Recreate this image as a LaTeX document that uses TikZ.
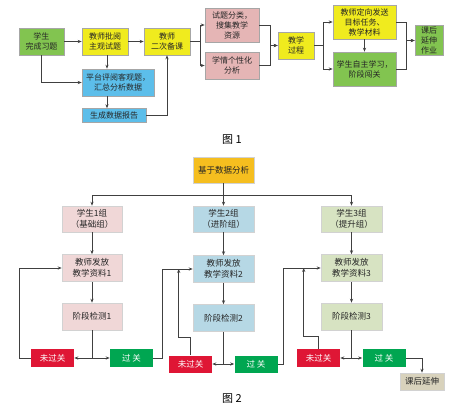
\documentclass[tikz,border=0pt]{standalone}
\usepackage{fontspec}
\usepackage{tikz}
\usetikzlibrary{arrows.meta,positioning}
\newfontfamily\cjk{Noto Sans CJK SC}
\definecolor{fgreen}{RGB}{130,196,80}
\definecolor{fyellow}{RGB}{240,235,30}
\definecolor{fblue}{RGB}{92,190,234}
\definecolor{fpink}{RGB}{229,181,181}
\definecolor{forange}{RGB}{245,190,31}
\definecolor{lpink}{RGB}{240,215,215}
\definecolor{lblue}{RGB}{182,216,229}
\definecolor{lgreen}{RGB}{215,227,194}
\definecolor{fred}{RGB}{223,22,53}
\definecolor{pgreen}{RGB}{0,166,81}
\definecolor{beige}{RGB}{216,210,188}

\begin{document}
\begin{tikzpicture}[x=1pt, y=-1pt,
    box/.style={draw=gray!70, line width=0.6pt, align=center, inner sep=1pt, text=black!85, font=\cjk\fontsize{8}{10}\selectfont},
    pbox/.style={box, draw=gray!35, font=\cjk\fontsize{8.5}{11}\selectfont},
    gate/.style={box, draw=none, text=white, minimum width=43pt, minimum height=18pt, font=\cjk\fontsize{8.5}{10}\selectfont},
    arr/.style={-{Stealth[length=4pt,width=3.2pt]}, line width=0.8pt, draw=black!75},
    dbl/.style={{Stealth[length=4pt,width=3.2pt]}-{Stealth[length=4pt,width=3.2pt]}, line width=0.8pt, draw=black!75},
    ln/.style={line width=0.8pt, draw=black!75},
    figcap/.style={font=\cjk\fontsize{11}{12}\selectfont}]
    \useasboundingbox[fill=white] (0,0) rectangle (453,413);

    % figure 1
    \node[box, fill=fgreen, minimum width=45pt, minimum height=27pt] (stu) at (41.5,41.5) {学生\\完成习题};
    \node[box, fill=fyellow, minimum width=46pt, minimum height=27pt] (mark) at (105,41.5) {教师批阅\\主观试题};
    \node[box, fill=fyellow, minimum width=46pt, minimum height=27pt] (prep) at (167,41.5) {教师\\二次备课};
    \node[box, fill=fblue, minimum width=72pt, minimum height=27pt] (plat) at (118,82.5) {平台评阅客观题，\\汇总分析数据};
    \node[box, fill=fblue, minimum width=64pt, minimum height=14pt] (report) at (114,115.5) {生成数据报告};
    \node[box, fill=fpink, minimum width=54pt, minimum height=34pt] (sort) at (232,25) {试题分类，\\搜集教学\\资源};
    \node[box, fill=fpink, minimum width=54pt, minimum height=27pt] (anal) at (232,65.5) {学情个性化\\分析};
    \node[box, fill=fyellow, minimum width=36pt, minimum height=27pt] (teach) at (296,45.5) {教学\\过程};
    \node[box, fill=fyellow, minimum width=63pt, minimum height=34pt] (send) at (364.5,22) {教师定向发送\\目标任务、\\教学材料};
    \node[box, fill=fgreen, minimum width=63pt, minimum height=34pt] (self) at (364.5,69) {学生自主学习，\\阶段闯关};
    \node[box, fill=fgreen, minimum width=28pt, minimum height=30pt] (home) at (429,40.5) {课后\\延伸\\作业};
    \node[figcap] (cap1) at (232,140) {图 1};

    \draw[arr] (stu) -- (mark);
    \draw[arr] (mark) -- (prep);
    \draw[arr] (prep.east) -- ++(10,0) |- (sort.west);
    \draw[arr] (prep.east) -- ++(10,0) |- (anal.west);
    \draw[arr] (sort.east) -- ++(11,0) |- (teach.west);
    \draw[arr] (anal.east) -- ++(11,0) |- (teach.west);
    \draw[arr] (teach.east) -- ++(9,0) |- (send.west);
    \draw[arr] (teach.east) -- ++(9,0) |- (self.west);
    \draw[arr] (send) -- (self);
    \draw[arr] (send.east) -- ++(10,0) |- (home.west);
    \draw[arr] (self.east) -- ++(10,0) |- (home.west);
    \draw[arr] (stu.south) |- (plat.west);
    \draw[arr] ([xshift=2pt]mark.south) -- ([xshift=2pt]mark.south |- plat.north);
    \draw[arr] ([xshift=2pt]mark.south |- plat.south) -- ([xshift=2pt]mark.south |- report.north);
    \draw[arr] (report.east) -| (prep.south);

    % figure 2
    \node[pbox, fill=forange, minimum width=61pt, minimum height=26pt] (base) at (223.5,170) {基于数据分析};
    \node[pbox, fill=lpink, minimum width=60pt, minimum height=26pt] (grpA) at (92,219) {学生1组\\（基础组）};
    \node[pbox, fill=lblue, minimum width=61pt, minimum height=26pt] (grpB) at (223.5,219) {学生2组\\（进阶组）};
    \node[pbox, fill=lgreen, minimum width=61pt, minimum height=26pt] (grpC) at (351.5,219) {学生3组\\（提升组）};
    \node[pbox, fill=lpink, minimum width=60pt, minimum height=27pt] (matA) at (92,268) {教师发放\\教学资料1};
    \node[pbox, fill=lblue, minimum width=61pt, minimum height=27pt] (matB) at (223.5,269) {教师发放\\教学资料2};
    \node[pbox, fill=lgreen, minimum width=61pt, minimum height=27pt] (matC) at (351.5,268) {教师发放\\教学资料3};
    \node[pbox, fill=lpink, minimum width=60pt, minimum height=27pt] (tstA) at (92,316.5) {阶段检测1};
    \node[pbox, fill=lblue, minimum width=61pt, minimum height=27pt] (tstB) at (223.5,318) {阶段检测2};
    \node[pbox, fill=lgreen, minimum width=61pt, minimum height=27pt] (tstC) at (351.5,316.5) {阶段检测3};
    \node[gate, fill=fred] (failA) at (52.5,358) {未过关};
    \node[gate, fill=pgreen] (passA) at (131.5,358) {过\ 关};
    \node[gate, fill=fred, minimum height=17pt] (failB) at (190.5,364) {未过关};
    \node[gate, fill=pgreen, minimum height=17pt] (passB) at (256,364) {过\ 关};
    \node[gate, fill=fred] (failC) at (318.5,358) {未过关};
    \node[gate, fill=pgreen] (passC) at (384,358) {过\ 关};
    \node[pbox, fill=beige, minimum width=44pt, minimum height=17pt] (ext) at (422,381.5) {课后延伸};
    \node[figcap] (cap2) at (232,399) {图 2};

    \draw[ln] (base.south) -- ++(0,12) coordinate (bus);
    \draw[arr] (bus) -| (grpA.north);
    \draw[arr] (bus) -- (grpB.north);
    \draw[arr] (bus) -| (grpC.north);
    \draw[arr] (grpA) -- (matA);
    \draw[arr] (grpB) -- (matB);
    \draw[arr] (grpC) -- (matC);
    \draw[arr] (matA) -- (tstA);
    \draw[arr] (matB) -- (tstB);
    \draw[arr] (matC) -- (tstC);
    \draw[ln] (tstA.south) -- (tstA.south |- failA.east);
    \draw[ln] (tstB.south) -- (tstB.south |- failB.east);
    \draw[ln] (tstC.south) -- (tstC.south |- failC.east);
    \draw[dbl] (failA) -- (passA);
    \draw[dbl] (failB) -- (passB);
    \draw[dbl] (failC) -- (passC);
    \draw[arr] (failA.west) -- ++(-11,0) |- (matA.west);
    \draw[arr] (passA.east) -- ++(9,0) |- (matB.west);
    \draw[arr] (failB.north) -- ++(0,-18) -| ([xshift=-14pt]matB.west);
    \draw[arr] (passB.east) -- ++(6,0) |- (matC.west);
    \draw[arr] (failC.north) -- ++(0,-12) -| ([xshift=-17pt]matC.west);
    \draw[arr] (passC.east) -| (ext.north);
\end{tikzpicture}
\end{document}
